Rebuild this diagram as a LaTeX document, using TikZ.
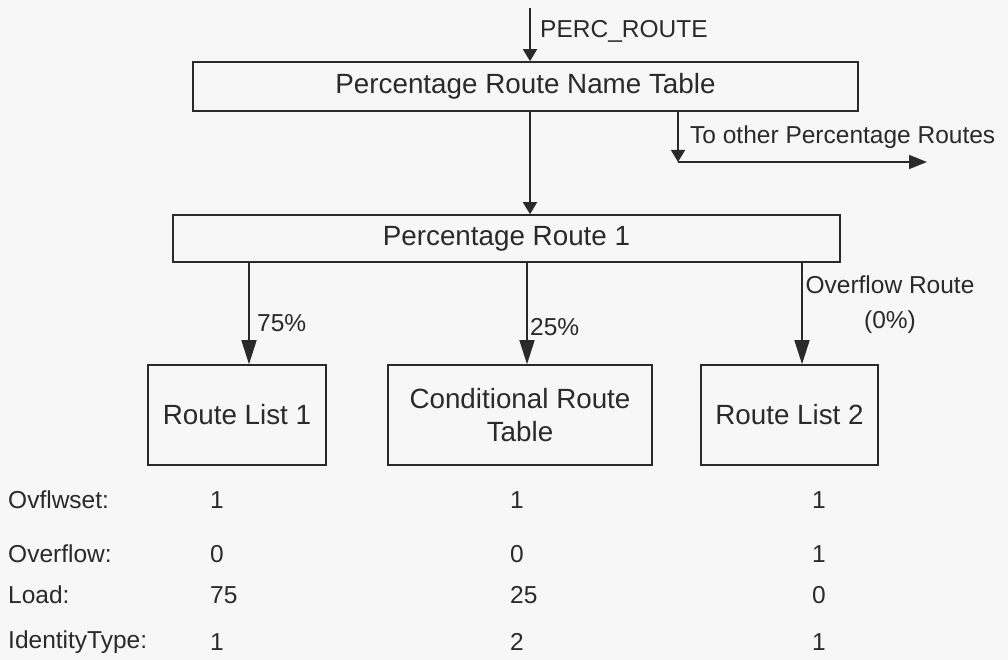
\documentclass[tikz,border=0pt]{standalone}
\usepackage{fontspec}
\setmainfont{Liberation Sans}
\usetikzlibrary{arrows.meta}
\definecolor{bg}{HTML}{F7F7F7}
\definecolor{ink}{HTML}{2A2A2A}
\begin{document}
\begin{tikzpicture}[x=1pt,y=-1pt,
  box/.style={draw=ink, line width=1.6pt, fill=bg, text=ink, inner sep=0pt,
    align=center, font=\fontsize{27.8}{33}\selectfont},
  lbl/.style={text=ink, inner sep=0pt, align=center, font=\fontsize{24.5}{35}\selectfont},
  bigarrow/.style={draw=ink, line width=1.6pt, -{Triangle[length=24pt,width=15pt]}},
  smallarrow/.style={draw=ink, line width=1.6pt, -{Triangle[length=12pt,width=14pt]}},
  sidearrow/.style={draw=ink, line width=1.6pt, -{Triangle[length=18pt,width=14pt]}}
]
\fill[bg] (0,0) rectangle (1008,660);
\useasboundingbox (0,0) rectangle (1008,660);

% tables and routes
\node[box, minimum width=665pt, minimum height=49pt] (nametab) at (525.5,86.5) {Percentage Route Name Table};
\node[box, minimum width=667pt, minimum height=47pt] (route) at (506.5,238.5) {Percentage Route 1};
\node[box, minimum width=178pt, minimum height=100pt] (rl1) at (237,415) {Route List 1};
\node[box, minimum width=264pt, minimum height=100pt] (crt) at (520,415) {Conditional Route\\Table};
\node[box, minimum width=177pt, minimum height=100pt] (rl2) at (789.5,415) {Route List 2};

% entry into the name table
\coordinate (entry) at (530,8);
\draw[smallarrow] (entry) -- (entry |- nametab.north);
\node[lbl, anchor=west] (perc) at (540,31) {PERC\_ROUTE};

% name table to route 1
\coordinate (tx) at (530,0);
\draw[smallarrow] (tx |- nametab.south) -- (tx |- route.north);

% branch to other percentage routes
\coordinate (bend) at (678,162);
\coordinate (other) at (927,162);
\draw[smallarrow] (bend |- nametab.south) -- (bend);
\draw[sidearrow] (bend) -- (other);
\node[lbl, anchor=west] (othertxt) at (690,137) {To other Percentage Routes};

% route 1 to the lists
\coordinate (a1) at (249,0);
\coordinate (a2) at (527,0);
\coordinate (a3) at (802,0);
\draw[bigarrow] (a1 |- route.south) -- (a1 |- rl1.north);
\draw[bigarrow] (a2 |- route.south) -- (a2 |- crt.north);
\draw[bigarrow] (a3 |- route.south) -- (a3 |- rl2.north);
\node[lbl, anchor=west] (p75) at (257,323) {75\%};
\node[lbl, anchor=west] (p25) at (530,327) {25\%};
\node[lbl] (ovf) at (890,305) {Overflow Route\\(0\%)};

% settings per list
\node[lbl, anchor=west] (h1) at (8,500) {Ovflwset:};
\node[lbl, anchor=west] (h2) at (8,554) {Overflow:};
\node[lbl, anchor=west] (h3) at (8,595) {Load:};
\node[lbl, anchor=west] (h4) at (8,642) {IdentityType:};

\node[lbl, anchor=west] (v11) at (210,500) {1};
\node[lbl, anchor=west] (v12) at (210,554) {0};
\node[lbl, anchor=west] (v13) at (210,595) {75};
\node[lbl, anchor=west] (v14) at (210,642) {1};

\node[lbl, anchor=west] (v21) at (510,500) {1};
\node[lbl, anchor=west] (v22) at (510,554) {0};
\node[lbl, anchor=west] (v23) at (510,595) {25};
\node[lbl, anchor=west] (v24) at (510,642) {2};

\node[lbl, anchor=west] (v31) at (812,500) {1};
\node[lbl, anchor=west] (v32) at (812,554) {1};
\node[lbl, anchor=west] (v33) at (812,595) {0};
\node[lbl, anchor=west] (v34) at (812,642) {1};
\end{tikzpicture}
\end{document}
